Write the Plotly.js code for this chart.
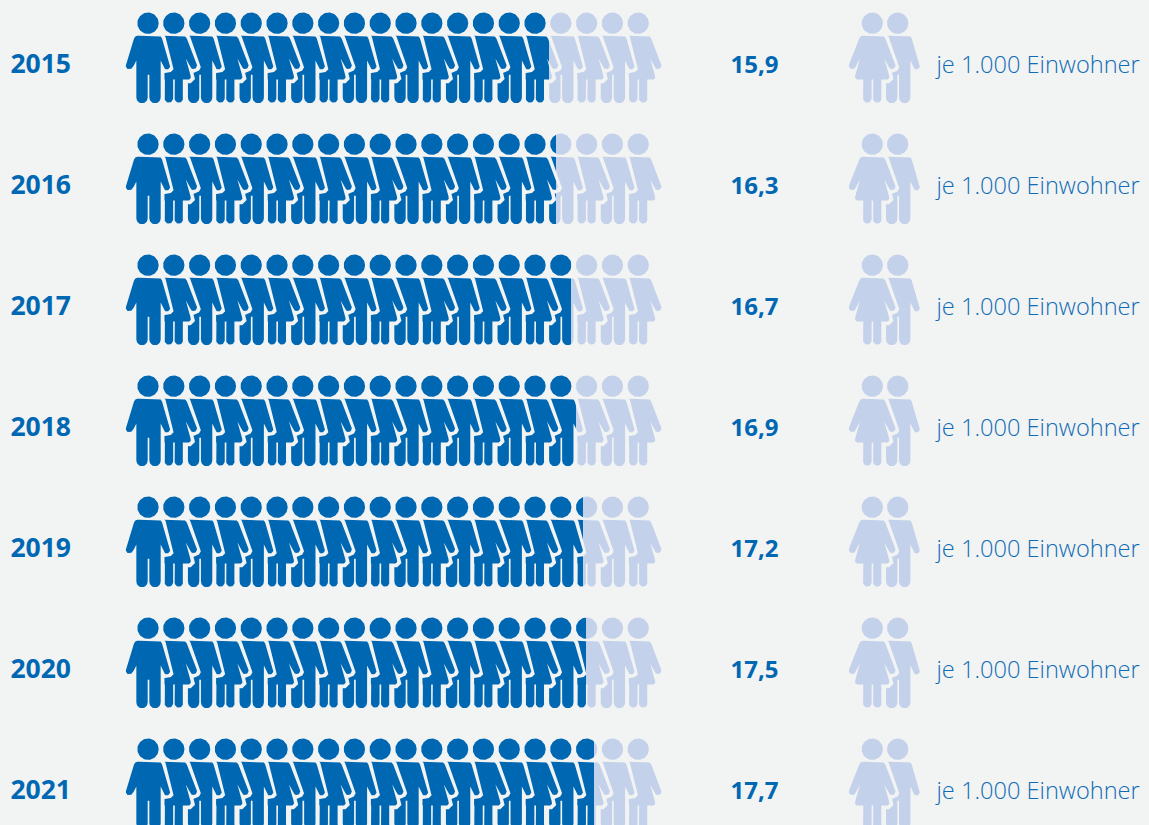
<!DOCTYPE html>
<html><head><meta charset="utf-8">
<script src="https://cdn.plot.ly/plotly-3.0.1.min.js"></script>
<style>html,body{margin:0;padding:0;background:#f2f3f3;overflow:hidden}#c{width:1149px;height:825px}</style>
</head><body><div id="c"></div>
<script>
// --- Data ---
const years = [2015, 2016, 2017, 2018, 2019, 2020, 2021];
const rates = [15.9, 16.3, 16.7, 16.9, 17.2, 17.5, 17.7];
const rateLabels = ['15,9', '16,3', '16,7', '16,9', '17,2', '17,5', '17,7'];
// how far the dark fill reaches in each drawn row (in persons)
const filledPersons = [15.9, 16.17, 16.75, 16.95, 17.22, 17.33, 17.64];
const totalPersons = 20;
const unitLabel = 'je 1.000 Einwohner';

const DARK = '#0067b3', LIGHT = '#c3d1ea', BG = '#f2f3f3', TEXT = '#0067b3', TEXT2 = '#0f6cb5';
const W = 1149, H = 825, L = 72;
const PX = 25.8, ROW = 121, X0 = 138.8, Y0 = 64;   // scale of the two axes
const xOf = px => (px - X0) / PX;
const xLo = xOf(L), xHi = xOf(W);
const yRange = [years[0] + (H - Y0) / ROW, years[0] - Y0 / ROW];
const labelDrop = 3 / ROW;

// --- Pictogram templates: px relative to head centre ---
function arc(cx, cy, r, a0, a1, n) {
  const out = [], steps = n || 14;
  for (let k = 0; k <= steps; k++) {
    const a = (a0 + (a1 - a0) * k / steps) * Math.PI / 180;
    out.push([cx + r * Math.cos(a), cy + r * Math.sin(a)]);
  }
  return out;
}
const flat = a => a.reduce((m, p) => Array.isArray(p[0]) ? m.concat(p) : (m.push(p), m), []);
const HEAD = arc(0, 0, 32, 0, 360, 64);
function tpl(points, hx) {
  return flat(points).map(p => [(p[0] - hx) / 3, (p[1] - 70) / 3]);
}
const MAN_BODY = tpl([
  [58,108],[115,108],[122,110],[126,116],[150,193],
  arc(140,198,10.5,-20,120),[135,207],[130,198],[122,182],[122,293],
  arc(105,293,17,0,180),[88,225],[83,225],[83,293],
  arc(66,293,17,0,180),[49,182],[41,198],[34,207],
  arc(28,198,10.5,60,200),[42,116],[46,110],[52,108],[58,108]
], 84);
const WOMAN_BODY = tpl([
  [68,108],[124,108],[131,110],[136,116],[166,190],
  arc(156,197,10.5,-30,120),[150,206],[145,198],[133,176],[147,226],
  [148,234],[143,239],[124,239],[124,296],
  arc(112,296,12.5,0,180),[100,239],[95,239],[95,296],
  arc(82,296,12.5,0,180),[70,239],[51,239],[45,234],[46,226],[60,176],
  [49,198],[44,206],
  arc(37,197,10.5,60,210),[58,116],[62,110],[68,108]
], 97);
const HEAD_PX = HEAD.map(p => [p[0] / 3, p[1] / 3]);
const HEAD_DY = 23.2 - Y0;

function figure(xUnit, year, body) {
  const xs = [], ys = [];
  const add = pts => pts.forEach(p => { xs.push(xUnit + p[0] / PX); ys.push(year + (p[1] + HEAD_DY) / ROW); });
  add(HEAD_PX); xs.push(null); ys.push(null); add(body);
  return { xs, ys };
}
function drawFigure(traces, xUnit, year, body, color, xa) {
  const f = figure(xUnit, year, body);
  const base = { type: 'scatter', mode: 'lines', x: f.xs, y: f.ys, xaxis: xa, yaxis: 'y', hoverinfo: 'skip', showlegend: false };
  traces.push(Object.assign({}, base, { line: { color: BG, width: 7.6 } }));
  traces.push(Object.assign({}, base, { line: { color: color, width: 0 }, fill: 'toself', fillcolor: color }));
}
const headUnit = i => 0.357 + i;
const bodyOf = i => i % 2 === 0 ? MAN_BODY : WOMAN_BODY;

const traces = [];
const layout = {
  width: W, height: H, autosize: false,
  margin: { l: L, r: 0, t: 0, b: 0, pad: 0 },
  paper_bgcolor: BG, plot_bgcolor: 'rgba(0,0,0,0)', showlegend: false, hovermode: false,
  xaxis: { domain: [0, 1], range: [xLo, xHi], visible: false, fixedrange: true },
  yaxis: {
    range: yRange, tickmode: 'array', tickvals: years, ticktext: years.map(String),
    tickfont: { family: 'Open Sans', size: 26.5, color: TEXT, weight: 700 },
    ticks: '', showgrid: false, zeroline: false, showline: false, fixedrange: true, automargin: false
  }
};

// pale full rows (right to left, so each figure overlaps its right neighbour)
years.forEach(y => {
  for (let i = totalPersons - 1; i >= 0; i--) drawFigure(traces, headUnit(i), y, bodyOf(i), LIGHT, 'x');
});
// dark rows: same figures on an x axis whose domain stops at the filled amount
years.forEach((y, r) => {
  const id = r + 2, v = filledPersons[r];
  layout['xaxis' + id] = {
    domain: [0, (X0 + v * PX - L) / (W - L)], range: [xLo, v], visible: false,
    anchor: 'y', fixedrange: true
  };
  const last = Math.min(totalPersons - 1, Math.ceil(v));
  for (let i = last; i >= 0; i--) drawFigure(traces, headUnit(i), y, bodyOf(i), DARK, 'x' + id);
});
// key pair on the right
const keyUnitW = xOf(872.3), keyUnitM = xOf(897.7);
years.forEach(y => {
  drawFigure(traces, keyUnitM, y, MAN_BODY, LIGHT, 'x');
  drawFigure(traces, keyUnitW, y, WOMAN_BODY, LIGHT, 'x');
});
// value labels and unit
traces.push({
  type: 'scatter', mode: 'text', x: years.map(() => xOf(754.5)), y: years.map(y => y + labelDrop), text: rateLabels,
  customdata: rates, textposition: 'middle center', cliponaxis: false,
  textfont: { family: 'Open Sans', size: 24, color: TEXT, weight: 700 },
  hoverinfo: 'skip', showlegend: false
});
traces.push({
  type: 'scatter', mode: 'text', x: years.map(() => xOf(936.5)), y: years.map(y => y + labelDrop), text: years.map(() => unitLabel),
  textposition: 'middle right', cliponaxis: false,
  textfont: { family: 'Open Sans', size: 23.6, color: TEXT2, weight: 300 },
  hoverinfo: 'skip', showlegend: false
});
Plotly.newPlot('c', traces, layout, { displayModeBar: false, staticPlot: true });
</script></body></html>
